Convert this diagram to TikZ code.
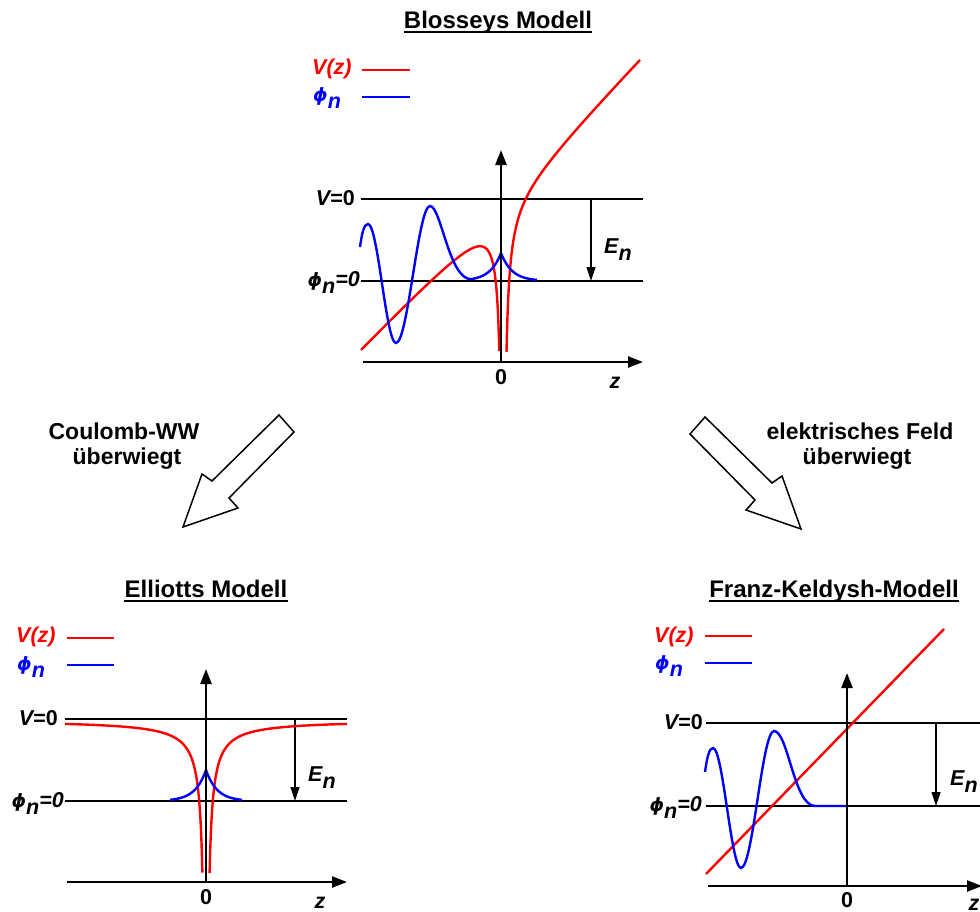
\documentclass[tikz,border=0pt]{standalone}
\usepackage{fontspec}
\setmainfont{Liberation Sans}
\newfontfamily\phifont[Scale=0.85]{DejaVu Sans}
\usetikzlibrary{arrows.meta}
\newcommand\lsub[1]{\raisebox{-7pt}{#1}}
\newcommand\myphi{{\phifont\bfseries\itshape ϕ}}
\begin{document}
\begin{tikzpicture}[x=1pt,y=-1pt,
  axis/.style={line width=2.4pt,-{Triangle[length=15pt,width=11pt]}},
  refline/.style={line width=1.2pt},
  enarrow/.style={line width=1.2pt,-{Triangle[length=14pt,width=9pt]}},
  vcurve/.style={red,line width=2.4pt},
  phicurve/.style={blue,line width=2.4pt},
  lbl/.style={font=\fontsize{21.5}{24}\selectfont\bfseries,inner sep=0pt},
  ttl/.style={font=\fontsize{24}{27}\selectfont\bfseries,inner sep=0pt},
  note/.style={font=\fontsize{23}{27}\selectfont\bfseries,inner sep=0pt},
  uline/.style={line width=1.6pt},
  bigarrow/.style={line width=1.5pt,fill=white,line join=miter}
]
\useasboundingbox (0,0) rectangle (980,911);

%================ Top: Blosseys Modell ================
\node[ttl,anchor=base] (t1) at (498,28) {Blosseys Modell};
\draw[uline] ([yshift=-4pt]t1.base west) -- ([yshift=-4pt]t1.base east);

\node[lbl,red,anchor=base west] (lv1) at (312,74) {\itshape V(z)};
\node[lbl,blue,anchor=base west] (lp1) at (313,101) {\myphi\lsub{\itshape n}};
\draw[vcurve] (362,70) -- (410,70);
\draw[phicurve] (362,97) -- (410,97);

\coordinate (v0a) at (361,199); \coordinate (v0b) at (643,199);
\coordinate (p0a) at (361,281); \coordinate (p0b) at (643,281);
\draw[refline] (v0a) -- (v0b);
\draw[refline] (p0a) -- (p0b);
\coordinate (ena) at (591,199); \coordinate (enb) at (591,281);
\draw[enarrow] (ena) -- (enb);
\node[lbl,anchor=base west] (en1) at (604,253) {\itshape E\lsub{n}};
\node[lbl,anchor=base east] (lvz1) at (355,205) {\itshape V\upshape =0};
\node[lbl,anchor=base east] (lpz1) at (360,286) {\myphi\lsub{\itshape n}\itshape =0};

\draw[vcurve] plot[domain=-142:-3.7,samples=300,variable=\u] ({503+\u},{198.4-1.04*\u-550/\u});
\draw[vcurve] plot[domain=3.5:137,samples=300,variable=\u] ({503+\u},{198.4-1.04*\u+550/\u});

\draw[phicurve] (360,247) .. controls (362,233) and (364,224) .. (368,224)
  .. controls (378,224) and (386,343) .. (396,343)
  .. controls (408,343) and (418,206) .. (430,206)
  .. controls (441,206) and (449,279.2) .. (471,279.2)
  -- plot[domain=-30:36,samples=133,variable=\u] ({501+\u},{281-28*exp(-abs(\u)/11)});

\coordinate (xa1) at (363,362); \coordinate (xb1) at (643,362);
\coordinate (ya1) at (501,362); \coordinate (yb1) at (501,150);
\draw[axis] (xa1) -- (xb1);
\draw[axis] (ya1) -- (yb1);
\node[lbl,anchor=base] (o1) at (501,384) {0};
\node[lbl,anchor=base] (z1) at (615,388) {\itshape z};

%================ Arrows ================
\draw[bigarrow] (279,415) -- (294,432) -- (229,498) -- (238,508) -- (183,527) -- (202,474) -- (212,481) -- cycle;
\draw[bigarrow] (705,417) -- (690,434) -- (755,500) -- (746,510) -- (801,529) -- (782,476) -- (772,483) -- cycle;
\node[note,anchor=base] (cw1) at (124,439) {Coulomb-WW};
\node[note,anchor=base] (cw2) at (127,464) {überwiegt};
\node[note,anchor=base] (ef1) at (860,439) {elektrisches Feld};
\node[note,anchor=base] (ef2) at (857,464) {überwiegt};

%================ Bottom left: Elliotts Modell ================
\node[ttl,anchor=base] (t2) at (206,597) {Elliotts Modell};
\draw[uline] ([yshift=-4pt]t2.base west) -- ([yshift=-4pt]t2.base east);

\node[lbl,red,anchor=base west] (lv2) at (16,642) {\itshape V(z)};
\node[lbl,blue,anchor=base west] (lp2) at (17,670) {\myphi\lsub{\itshape n}};
\draw[vcurve] (67,638) -- (114,638);
\draw[phicurve] (67,665) -- (114,665);

\coordinate (v0c) at (65,719); \coordinate (v0d) at (347,719);
\coordinate (p0c) at (65,801); \coordinate (p0d) at (347,801);
\draw[refline] (v0c) -- (v0d);
\draw[refline] (p0c) -- (p0d);
\coordinate (enc) at (295,719); \coordinate (end) at (295,801);
\draw[enarrow] (enc) -- (end);
\node[lbl,anchor=base west] (en2) at (308,781) {\itshape E\lsub{n}};
\node[lbl,anchor=base east] (lvz2) at (58,725) {\itshape V\upshape =0};
\node[lbl,anchor=base east] (lpz2) at (64,807) {\myphi\lsub{\itshape n}\itshape =0};

\draw[vcurve] plot[domain=-141:-3.6,samples=300,variable=\u] ({206+\u},{720-550/\u});
\draw[vcurve] plot[domain=3.6:141,samples=300,variable=\u] ({206+\u},{720+550/\u});
\draw[phicurve] plot[domain=-36:36,samples=145,variable=\u] ({206+\u},{801-31*exp(-abs(\u)/11)});

\coordinate (xa2) at (67,882); \coordinate (xb2) at (347,882);
\coordinate (ya2) at (206,882); \coordinate (yb2) at (206,669);
\draw[axis] (xa2) -- (xb2);
\draw[axis] (ya2) -- (yb2);
\node[lbl,anchor=base] (o2) at (206,904) {0};
\node[lbl,anchor=base] (z2) at (320,908) {\itshape z};

%================ Bottom right: Franz-Keldysh-Modell ================
\node[ttl,anchor=base] (t3) at (834,597) {Franz-Keldysh-Modell};
\draw[uline] ([yshift=-4pt]t3.base west) -- ([yshift=-4pt]t3.base east);

\node[lbl,red,anchor=base west] (lv3) at (654,642) {\itshape V(z)};
\node[lbl,blue,anchor=base west] (lp3) at (655,669) {\myphi\lsub{\itshape n}};
\draw[vcurve] (705,636) -- (752,636);
\draw[phicurve] (705,663) -- (752,663);

\coordinate (v0e) at (706,723); \coordinate (v0f) at (982,723);
\coordinate (p0e) at (706,806); \coordinate (p0f) at (982,806);
\draw[refline] (v0e) -- (v0f);
\draw[refline] (p0e) -- (p0f);
\coordinate (ene) at (936,723); \coordinate (enf) at (936,806);
\draw[enarrow] (ene) -- (enf);
\node[lbl,anchor=base west] (en3) at (950,785) {\itshape E\lsub{n}};
\node[lbl,anchor=base east] (lvz3) at (703,729) {\itshape V\upshape =0};
\node[lbl,anchor=base east] (lpz3) at (702,811) {\myphi\lsub{\itshape n}\itshape =0};

\coordinate (ra) at (706,874); \coordinate (rb) at (944,629);
\draw[vcurve] (ra) -- (rb);
\draw[phicurve] (705,772) .. controls (707,758) and (709,748) .. (713,748)
  .. controls (723,748) and (731,868) .. (741,868)
  .. controls (753,868) and (762,731) .. (774,731)
  .. controls (788,731) and (794,806) .. (815,806) -- (847,806);

\coordinate (xa3) at (708,886); \coordinate (xb3) at (982,886);
\coordinate (ya3) at (847,886); \coordinate (yb3) at (847,673);
\draw[axis] (xa3) -- (xb3);
\draw[axis] (ya3) -- (yb3);
\node[lbl,anchor=base] (o3) at (847,907) {0};
\node[lbl,anchor=base] (z3) at (974,910) {\itshape z};
\end{tikzpicture}
\end{document}
